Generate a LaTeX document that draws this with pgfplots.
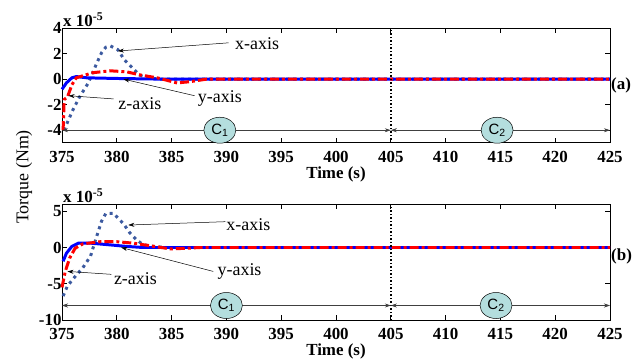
\documentclass[border=0pt]{standalone}
\usepackage{pgfplots}
\pgfplotsset{compat=1.18}
\usepackage{fontspec}
\setmainfont{Liberation Serif}
\setsansfont{Liberation Sans}
\usetikzlibrary{arrows.meta,shapes.geometric}
\definecolor{xcol}{RGB}{60,90,160}
\definecolor{ccol}{RGB}{180,222,222}
\pgfplotsset{
 myax/.style={
  scale only axis, width=548bp, clip=false,
  xmin=375,xmax=425, xtick={375,380,...,425},
  tick label style={font=\bfseries\fontsize{17}{17}\selectfont},
  /pgf/number format/assume math mode=true,
  /pgf/number format/1000 sep={},
  axis line style={line width=1pt},
  major tick length=5bp,
  tick style={line width=0.8pt, black},
  xtick pos=both, ytick pos=both,
  xticklabel pos=bottom, yticklabel pos=left,
  xlabel={\textbf{Time (s)}},
  xlabel style={font=\fontsize{17}{17}\selectfont, at={(axis description cs:0.5,0)}, anchor=center, yshift=-31bp},
  xticklabel style={yshift=-5bp},
  yticklabel style={xshift=3bp},
 },
}
\tikzset{
 xs/.style={color=xcol, line width=3pt, dash pattern=on 3bp off 4bp},
 ys/.style={color=blue, line width=3pt},
 zs/.style={color=red, line width=3pt, dash pattern=on 9bp off 3bp on 3bp off 3bp},
 ann/.style={font=\fontsize{18}{18}\selectfont},
 aar/.style={-{Stealth[length=6bp,width=4bp]}, line width=0.5pt, black},
 car/.style={{Stealth[length=6bp,width=4bp]}-{Stealth[length=6bp,width=4bp]}, line width=0.6pt, black!75},
 cel/.style={ellipse, draw=black, line width=0.5pt, fill=ccol, minimum width=32bp, minimum height=26bp, inner sep=0pt, font=\sffamily\fontsize{15}{15}\selectfont},
}
\begin{document}
\begin{tikzpicture}
\useasboundingbox (0,0) rectangle (639bp,362bp);
% ---------- (a)
\begin{axis}[myax, at={(62bp,219bp)}, anchor=south west, height=115bp,
  ymin=-5, ymax=4, ytick={-4,-2,0,2,4}]
\addplot[xs] coordinates {(375.2,-4.0) (375.4,-3.57) (376.0,-2.4) (376.6,-1.4) (377.4,-0.3) (378.2,1.3) (378.6,2.05) (379.0,2.5) (379.4,2.6) (380.1,2.3) (380.7,1.5) (381.4,0.9) (382.1,0.3) (382.8,0.1) (384,0) (425,0)};
\addplot[ys] coordinates {(375.0,-0.8) (375.4,-0.3) (375.9,0.1) (376.3,0.2) (377.3,0.1) (380,0.05) (384,0) (425,0)};
\addplot[zs] coordinates {(375.1,-4.0) (375.2,-1.6) (375.5,-1.4) (375.9,-0.45) (376.3,0.1) (377.8,0.5) (379.4,0.65) (380.9,0.57) (382.1,0.33) (383.7,0.1) (385.5,-0.3) (386.7,-0.2) (388.2,0) (425,0)};
\draw[dotted, line width=1.5pt] (axis cs:405,-5) -- (axis cs:405,4);
\draw[car] (axis cs:375,-4) -- (axis cs:405,-4);
\draw[car] (axis cs:405,-4) -- (axis cs:425,-4);
\node[cel] at (axis cs:389.4,-4) {C\textsubscript{1}};
\node[cel] at (axis cs:414.7,-4) {C\textsubscript{2}};
\node[ann] at (axis cs:392.8,2.76) {x-axis};
\draw[aar] (axis cs:390.2,2.84) -- (axis cs:380.1,2.2);
\node[ann] at (axis cs:389.4,-1.54) {y-axis};
\draw[aar] (axis cs:387.1,-1.3) -- (axis cs:380.6,0);
\node[ann] at (axis cs:382.1,-1.93) {z-axis};
\draw[aar] (axis cs:379.7,-1.55) -- (axis cs:375.6,-1.3);
\node[anchor=south west, inner sep=1bp, font=\bfseries\fontsize{17}{17}\selectfont] at (rel axis cs:0,1) {x 10\textsuperscript{-5}};
\node[anchor=west, inner sep=1bp, font=\bfseries\fontsize{17}{17}\selectfont] at (rel axis cs:1,0.504) {(a)};
\end{axis}
% ---------- (b)
\begin{axis}[myax, at={(62bp,42bp)}, anchor=south west, height=116bp,
  ymin=-10, ymax=6, ytick={-10,-5,0,5}]
\addplot[xs] coordinates {(375.1,-6.7) (375.5,-5.3) (376.2,-4.0) (376.9,-2.8) (377.6,-1.2) (378.2,1.7) (378.6,3.6) (379.0,4.7) (379.7,4.7) (380.6,3.3) (381.2,2.0) (381.8,1.05) (382.4,0.4) (383.3,0.15) (384.5,0) (425,0)};
\addplot[ys] coordinates {(375.1,-1.9) (375.4,-0.8) (375.9,0.15) (376.5,0.6) (377.6,0.6) (379.1,0.4) (380.9,0.15) (382.4,0) (425,0)};
\addplot[zs] coordinates {(375.0,-5.5) (375.3,-3.3) (375.7,-1.45) (376.2,-0.1) (376.9,0.5) (378.5,0.8) (380.0,0.8) (381.5,0.6) (383.0,0.25) (384.9,-0.2) (386.4,-0.1) (387.6,0) (425,0)};
\draw[dotted, line width=1.5pt] (axis cs:405,-10) -- (axis cs:405,6);
\draw[car] (axis cs:375,-8) -- (axis cs:405,-8);
\draw[car] (axis cs:405,-8) -- (axis cs:425,-8);
\node[cel] at (axis cs:390,-8) {C\textsubscript{1}};
\node[cel] at (axis cs:414.6,-8) {C\textsubscript{2}};
\node[ann] at (axis cs:392.0,3.1) {x-axis};
\draw[aar] (axis cs:389.9,3.56) -- (axis cs:381.05,3.1);
\node[ann] at (axis cs:391.2,-3.3) {y-axis};
\draw[aar] (axis cs:388.8,-3.3) -- (axis cs:380.4,0);
\node[ann] at (axis cs:381.7,-4.3) {z-axis};
\draw[aar] (axis cs:379.5,-3.7) -- (axis cs:375.5,-3.3);
\node[anchor=south west, inner sep=1bp, font=\bfseries\fontsize{17}{17}\selectfont] at (rel axis cs:0,1) {x 10\textsuperscript{-5}};
\node[anchor=west, inner sep=1bp, font=\bfseries\fontsize{17}{17}\selectfont] at (rel axis cs:1,0.546) {(b)};
\end{axis}
\node[rotate=90, font=\fontsize{18}{18}\selectfont] at (24bp,185bp) {Torque (Nm)};
\end{tikzpicture}
\end{document}
